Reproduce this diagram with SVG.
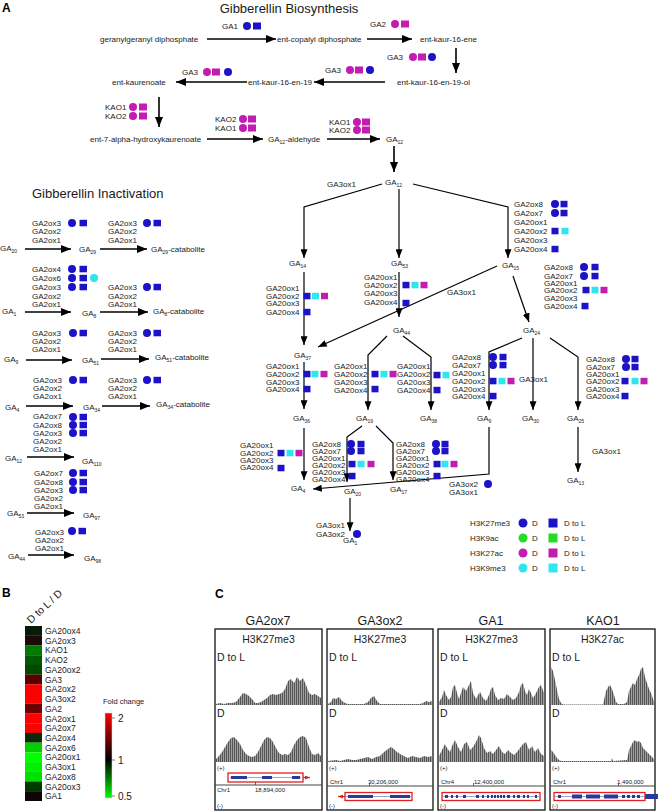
<svg xmlns="http://www.w3.org/2000/svg" width="658" height="811" viewBox="0 0 658 811">
<style>
text{font-family:"Liberation Sans",Arial,Helvetica,sans-serif;fill:#1a1a1a}
.e{font-size:8px}
.m{font-size:8px}
.sub{font-size:5px}
.ttl{font-size:13px}
.pl{font-size:12px;font-weight:bold;fill:#000}
.b{fill:#1c12c8}
.mg{fill:#c21cb0}
.cy{fill:#2ee6ee}
.gr{fill:#22dd22}
.ln{stroke:#000;stroke-width:1.2;fill:none}
.lb{stroke:#000;stroke-width:1.6;fill:none}
.box{fill:none;stroke:#111;stroke-width:1.3}
.trk{fill:url(#bars)}
.small{font-size:6px}
.ct{font-size:12.5px}
.ci{font-size:10.5px}
.hl{font-size:8.5px}
.gene{fill:none;stroke:#e02020;stroke-width:1.3}
.ex{fill:#2a3a9a}
</style>
<defs>
<marker id="ah" viewBox="0 0 10 8" refX="10" refY="4" markerWidth="9" markerHeight="7" orient="auto" markerUnits="userSpaceOnUse"><path d="M0,0 L10,4 L0,8 z" fill="#000"/></marker>
<marker id="ahb" viewBox="0 0 10 8" refX="10" refY="4" markerWidth="11" markerHeight="8" orient="auto" markerUnits="userSpaceOnUse"><path d="M0,0 L10,4 L0,8 z" fill="#000"/></marker>
<marker id="ahr" viewBox="0 0 10 8" refX="10" refY="4" markerWidth="5" markerHeight="4" orient="auto" markerUnits="userSpaceOnUse"><path d="M0,0 L10,4 L0,8 z" fill="#e02020"/></marker>
<pattern id="bars" width="2" height="10" patternUnits="userSpaceOnUse"><rect width="2" height="10" fill="#a0a0a0"/><rect width="1" height="10" fill="#555"/></pattern>
<linearGradient id="fc" x1="0" y1="0" x2="0" y2="1"><stop offset="0" stop-color="#ff0000"/><stop offset="0.55" stop-color="#000"/><stop offset="1" stop-color="#00ff00"/></linearGradient>
</defs>
<rect width="658" height="811" fill="#fff"/>

<text class="pl" x="2" y="12">A</text>
<text class="ttl" x="289" y="13" text-anchor="middle">Gibberellin Biosynthesis</text>
<text class="ttl" x="32" y="198">Gibberellin Inactivation</text>

<g id="connectors">
<path class="lb" d="M207,39 H276" marker-end="url(#ahb)"/>
<path class="lb" d="M367,39 H412" marker-end="url(#ahb)"/>
<path class="lb" d="M456,48 V73" marker-end="url(#ahb)"/>
<path class="lb" d="M385,82 H314" marker-end="url(#ahb)"/>
<path class="lb" d="M247,82 H176" marker-end="url(#ahb)"/>
<path class="lb" d="M159,97 V127" marker-end="url(#ahb)"/>
<path class="lb" d="M207,139 H263" marker-end="url(#ahb)"/>
<path class="lb" d="M327,139 H380" marker-end="url(#ahb)"/>
<path class="lb" d="M394,146 V172" marker-end="url(#ahb)"/>
<path class="ln" d="M382,184 L304,207 L304,258" marker-end="url(#ah)"/>
<path class="ln" d="M399,189 V258" marker-end="url(#ah)"/>
<path class="ln" d="M413,184 L508,207 L508,258" marker-end="url(#ah)"/>
<path class="ln" d="M304,272 V345" marker-end="url(#ah)"/>
<path class="ln" d="M399,272 V317" marker-end="url(#ah)"/>
<path class="ln" d="M497,266 L318,347" marker-end="url(#ah)"/>
<path class="ln" d="M513,276 L529,322" marker-end="url(#ah)"/>
<path class="ln" d="M387,336 L368,355 V410" marker-end="url(#ah)"/>
<path class="ln" d="M403,336 L431,357 V410" marker-end="url(#ah)"/>
<path class="ln" d="M304,362 V409" marker-end="url(#ah)"/>
<path class="ln" d="M522,338 L489,352 V410" marker-end="url(#ah)"/>
<path class="ln" d="M533,338 V410" marker-end="url(#ah)"/>
<path class="ln" d="M550,338 L578,357 V410" marker-end="url(#ah)"/>
<path class="ln" d="M578,427 V472" marker-end="url(#ah)"/>
<path class="ln" d="M304,428 V480" marker-end="url(#ah)"/>
<path class="ln" d="M362,426 L347,437 V482" marker-end="url(#ah)"/>
<path class="ln" d="M376,426 L393,443 V480" marker-end="url(#ah)"/>
<path class="ln" d="M489,427 V474 L313,489" marker-end="url(#ah)"/>
<path class="ln" d="M350,498 V531" marker-end="url(#ah)"/>
<path class="lb" d="M25,249 H71" marker-end="url(#ahb)"/>
<path class="lb" d="M100,249 H147" marker-end="url(#ahb)"/>
<path class="lb" d="M25,312 H71" marker-end="url(#ahb)"/>
<path class="lb" d="M100,312 H148" marker-end="url(#ahb)"/>
<path class="lb" d="M26,360 H72" marker-end="url(#ahb)"/>
<path class="lb" d="M101,359 H149" marker-end="url(#ahb)"/>
<path class="lb" d="M26,406 H73" marker-end="url(#ahb)"/>
<path class="lb" d="M102,406 H150" marker-end="url(#ahb)"/>
<path class="lb" d="M27,457 H74" marker-end="url(#ahb)"/>
<path class="lb" d="M27,513 H74" marker-end="url(#ahb)"/>
<path class="lb" d="M28,555 H74" marker-end="url(#ahb)"/>
</g>

<g id="n-ggdp"><text class="m" x="100" y="42">geranylgeranyl diphosphate</text></g>
<g id="n-cdp"><text class="m" x="277" y="42">ent-copalyl diphosphate</text></g>
<g id="n-kaurene"><text class="m" x="420" y="42">ent-kaur-16-ene</text></g>
<g id="n-kaurenol"><text class="m" x="397" y="85">ent-kaur-16-en-19-ol</text></g>
<g id="n-kaurenal"><text class="m" x="248" y="85">ent-kaur-16-en-19</text></g>
<g id="n-kaurenoate"><text class="m" x="112" y="85">ent-kaurenoate</text></g>
<g id="n-hydroxy"><text class="m" x="90" y="142">ent-7-alpha-hydroxykaurenoate</text></g>
<g id="n-ga12ald"><text class="m" x="268" y="142">GA<tspan class="sub" dy="2">12</tspan><tspan dy="-2">-aldehyde</tspan></text></g>
<g id="n-ga12a"><text class="m" x="386" y="142">GA<tspan class="sub" dy="2">12</tspan></text></g>

<g id="e-ga1"><text class="e" x="222" y="29">GA1</text><circle class="b" cx="247" cy="26" r="4"/><rect class="b" x="253" y="22.5" width="8" height="7"/></g>
<g id="e-ga2"><text class="e" x="370" y="27">GA2</text><circle class="mg" cx="395" cy="24" r="4"/><rect class="mg" x="401" y="20.5" width="8" height="7"/></g>
<g id="e-ga3a"><text class="e" x="387" y="60">GA3</text><circle class="mg" cx="413" cy="57" r="4"/><rect class="mg" x="418" y="53.5" width="8" height="7"/><circle class="b" cx="432" cy="57" r="4"/></g>
<g id="e-ga3b"><text class="e" x="325" y="73">GA3</text><circle class="mg" cx="350" cy="70" r="4"/><rect class="mg" x="355" y="66.5" width="8" height="7"/><circle class="b" cx="370" cy="70" r="4"/></g>
<g id="e-ga3c"><text class="e" x="182" y="75">GA3</text><circle class="mg" cx="207" cy="72" r="4"/><rect class="mg" x="212" y="68.5" width="8" height="7"/><circle class="b" cx="228" cy="72" r="4"/></g>
<g id="e-kao-a"><text class="e" x="105" y="110">KAO1</text><text class="e" x="105" y="119">KAO2</text><circle class="mg" cx="133" cy="107" r="4"/><rect class="mg" x="139" y="103.5" width="8" height="7"/><circle class="mg" cx="133" cy="116" r="4"/><rect class="mg" x="139" y="112.5" width="8" height="7"/></g>
<g id="e-kao-b"><text class="e" x="215" y="122">KAO2</text><text class="e" x="215" y="131">KAO1</text><circle class="mg" cx="243" cy="119" r="4"/><rect class="mg" x="248" y="115.5" width="8" height="7"/><circle class="mg" cx="243" cy="128" r="4"/><rect class="mg" x="248" y="124.5" width="8" height="7"/></g>
<g id="e-kao-c"><text class="e" x="329" y="125">KAO1</text><text class="e" x="329" y="133">KAO2</text><circle class="mg" cx="357" cy="122" r="4"/><rect class="mg" x="362" y="118.5" width="8" height="7"/><circle class="mg" cx="357" cy="130" r="4"/><rect class="mg" x="362" y="126.5" width="8" height="7"/></g>

<g id="n-ga12"><text class="m" x="385" y="185">GA<tspan class="sub" dy="2">12</tspan></text></g>
<g id="l-ga3ox1a"><text class="e" x="327" y="187">GA3ox1</text></g>
<g id="n-ga14"><text class="m" x="289" y="266">GA<tspan class="sub" dy="2">14</tspan></text></g>
<g id="n-ga53"><text class="m" x="391" y="266">GA<tspan class="sub" dy="2">53</tspan></text></g>
<g id="n-ga15"><text class="m" x="502" y="268">GA<tspan class="sub" dy="2">15</tspan></text></g>
<g id="n-ga37"><text class="m" x="294" y="358">GA<tspan class="sub" dy="2">37</tspan></text></g>
<g id="n-ga44"><text class="m" x="393" y="333">GA<tspan class="sub" dy="2">44</tspan></text></g>
<g id="n-ga24"><text class="m" x="523" y="333">GA<tspan class="sub" dy="2">24</tspan></text></g>
<g id="n-ga36"><text class="m" x="293" y="421">GA<tspan class="sub" dy="2">36</tspan></text></g>
<g id="n-ga19"><text class="m" x="356" y="421">GA<tspan class="sub" dy="2">19</tspan></text></g>
<g id="n-ga38"><text class="m" x="420" y="421">GA<tspan class="sub" dy="2">38</tspan></text></g>
<g id="n-ga9"><text class="m" x="477" y="421">GA<tspan class="sub" dy="2">9</tspan></text></g>
<g id="n-ga30"><text class="m" x="522" y="421">GA<tspan class="sub" dy="2">30</tspan></text></g>
<g id="n-ga25"><text class="m" x="567" y="421">GA<tspan class="sub" dy="2">25</tspan></text></g>
<g id="n-ga13"><text class="m" x="567" y="483">GA<tspan class="sub" dy="2">13</tspan></text></g>
<g id="n-ga4"><text class="m" x="291" y="491">GA<tspan class="sub" dy="2">4</tspan></text></g>
<g id="n-ga20"><text class="m" x="344" y="494">GA<tspan class="sub" dy="2">20</tspan></text></g>
<g id="n-ga17"><text class="m" x="390" y="492">GA<tspan class="sub" dy="2">17</tspan></text></g>
<g id="n-ga1"><text class="m" x="343" y="543">GA<tspan class="sub" dy="2">1</tspan></text></g>
<g id="l-ga3ox1b"><text class="e" x="447" y="295">GA3ox1</text></g>
<g id="l-ga3ox1c"><text class="e" x="519" y="382">GA3ox1</text></g>
<g id="l-ga3ox1d"><text class="e" x="592" y="454">GA3ox1</text></g>
<g id="l-ga3ox-e"><text class="e" x="449" y="487">GA3ox2</text><text class="e" x="449" y="495">GA3ox1</text><circle class="b" cx="488" cy="484" r="4"/></g>
<g id="l-ga3ox-f"><text class="e" x="316" y="528">GA3ox1</text><text class="e" x="316" y="537">GA3ox2</text><circle class="b" cx="357" cy="534" r="4"/></g>

<g id="e-ga14">
<text class="e" x="266" y="291">GA20ox1</text><text class="e" x="266" y="299">GA20ox2</text><text class="e" x="266" y="306">GA20ox3</text><text class="e" x="266" y="315">GA20ox4</text>
<rect class="b" x="303.5" y="292.8" width="7" height="6.5"/><rect class="cy" x="312" y="292.8" width="7" height="6.5"/><rect class="mg" x="321" y="292.8" width="7" height="6.5"/><rect class="b" x="303.5" y="308.8" width="7" height="6.5"/>
</g>
<g id="e-ga53">
<text class="e" x="364" y="280">GA20ox1</text><text class="e" x="364" y="288">GA20ox2</text><text class="e" x="364" y="296">GA20ox3</text><text class="e" x="364" y="305">GA20ox4</text>
<rect class="b" x="402.5" y="281.8" width="7" height="6.5"/><rect class="cy" x="411.5" y="281.8" width="7" height="6.5"/><rect class="mg" x="420.5" y="281.8" width="7" height="6.5"/><rect class="b" x="402.5" y="299.8" width="7" height="6.5"/>
</g>
<g id="e-ga15a">
<text class="e" x="514" y="207">GA2ox8</text><text class="e" x="514" y="216">GA2ox7</text><text class="e" x="514" y="225">GA20ox1</text><text class="e" x="514" y="234">GA20ox2</text><text class="e" x="514" y="243">GA20ox3</text><text class="e" x="514" y="252">GA20ox4</text>
<circle class="b" cx="555" cy="204" r="4"/><rect class="b" x="560.5" y="200.8" width="7" height="6.5"/><circle class="b" cx="555" cy="213" r="4"/><rect class="b" x="560.5" y="209.8" width="7" height="6.5"/>
<rect class="b" x="551.5" y="227.8" width="7" height="6.5"/><rect class="cy" x="561.5" y="227.8" width="7" height="6.5"/><rect class="b" x="551.5" y="245.8" width="7" height="6.5"/>
</g>
<g id="e-ga15b">
<text class="e" x="544" y="270">GA2ox8</text><text class="e" x="544" y="279">GA2ox7</text><text class="e" x="544" y="286">GA20ox1</text><text class="e" x="544" y="293">GA20ox2</text><text class="e" x="544" y="301">GA20ox3</text><text class="e" x="544" y="309">GA20ox4</text>
<circle class="b" cx="584" cy="267" r="4"/><rect class="b" x="591.5" y="263.8" width="7" height="6.5"/><circle class="b" cx="584" cy="276" r="4"/><rect class="b" x="591.5" y="272.8" width="7" height="6.5"/>
<rect class="b" x="582.5" y="286.8" width="7" height="6.5"/><rect class="cy" x="591.5" y="286.8" width="7" height="6.5"/><rect class="mg" x="600.5" y="286.8" width="7" height="6.5"/><rect class="b" x="581.5" y="302.8" width="7" height="6.5"/>
</g>
<g id="e-ga37">
<text class="e" x="266" y="369">GA20ox1</text><text class="e" x="266" y="377">GA20ox2</text><text class="e" x="266" y="385">GA20ox3</text><text class="e" x="266" y="392">GA20ox4</text>
<rect class="b" x="303.5" y="370.8" width="7" height="6.5"/><rect class="cy" x="311.5" y="370.8" width="7" height="6.5"/><rect class="mg" x="320.5" y="370.8" width="7" height="6.5"/><rect class="b" x="303.5" y="385.8" width="7" height="6.5"/>
</g>
<g id="e-ga44a">
<text class="e" x="334" y="369">GA20ox1</text><text class="e" x="334" y="377">GA20ox2</text><text class="e" x="334" y="385">GA20ox3</text><text class="e" x="334" y="393">GA20ox4</text>
<rect class="b" x="371.5" y="370.8" width="7" height="6.5"/><rect class="cy" x="380.5" y="370.8" width="7" height="6.5"/><rect class="mg" x="389.5" y="370.8" width="7" height="6.5"/><rect class="b" x="371.5" y="385.8" width="7" height="6.5"/>
</g>
<g id="e-ga44b">
<text class="e" x="397" y="369">GA20ox1</text><text class="e" x="397" y="377">GA20ox2</text><text class="e" x="397" y="385">GA20ox3</text><text class="e" x="397" y="393">GA20ox4</text>
<rect class="b" x="433.5" y="371.8" width="7" height="6.5"/><rect class="cy" x="442.5" y="371.8" width="7" height="6.5"/><rect class="b" x="433.5" y="386.8" width="7" height="6.5"/>
</g>
<g id="e-ga24a">
<text class="e" x="452" y="360">GA2ox8</text><text class="e" x="452" y="368">GA2ox7</text><text class="e" x="452" y="376">GA20ox1</text><text class="e" x="452" y="384">GA20ox2</text><text class="e" x="452" y="392">GA20ox3</text><text class="e" x="452" y="399">GA20ox4</text>
<circle class="b" cx="493" cy="357" r="4"/><rect class="b" x="499.5" y="353.8" width="7" height="6.5"/><circle class="b" cx="493" cy="365" r="4"/><rect class="b" x="499.5" y="361.8" width="7" height="6.5"/>
<rect class="b" x="489.5" y="377.8" width="7" height="6.5"/><rect class="cy" x="498.5" y="377.8" width="7" height="6.5"/><rect class="mg" x="507.5" y="377.8" width="7" height="6.5"/><rect class="b" x="489.5" y="392.8" width="7" height="6.5"/>
</g>
<g id="e-ga24b">
<text class="e" x="586" y="362">GA2ox8</text><text class="e" x="586" y="370">GA2ox7</text><text class="e" x="586" y="377">GA20ox1</text><text class="e" x="586" y="384">GA20ox2</text><text class="e" x="586" y="392">GA20ox3</text><text class="e" x="586" y="399">GA20ox4</text>
<circle class="b" cx="626" cy="359" r="4"/><rect class="b" x="631.5" y="355.8" width="7" height="6.5"/><circle class="b" cx="626" cy="367" r="4"/><rect class="b" x="631.5" y="363.8" width="7" height="6.5"/>
<rect class="b" x="621.5" y="377.8" width="7" height="6.5"/><rect class="cy" x="631.5" y="377.8" width="7" height="6.5"/><rect class="mg" x="640.5" y="377.8" width="7" height="6.5"/><rect class="b" x="621.5" y="392.8" width="7" height="6.5"/>
</g>
<g id="e-ga36">
<text class="e" x="240" y="448">GA20ox1</text><text class="e" x="240" y="456">GA20ox2</text><text class="e" x="240" y="463">GA20ox3</text><text class="e" x="240" y="470">GA20ox4</text>
<rect class="b" x="277.5" y="449.8" width="7" height="6.5"/><rect class="cy" x="286.5" y="449.8" width="7" height="6.5"/><rect class="mg" x="295.5" y="449.8" width="7" height="6.5"/><rect class="b" x="277.5" y="464.8" width="7" height="6.5"/>
</g>
<g id="e-ga19a">
<text class="e" x="312" y="447">GA2ox8</text><text class="e" x="312" y="454">GA2ox7</text><text class="e" x="312" y="461">GA20ox1</text><text class="e" x="312" y="468">GA20ox2</text><text class="e" x="312" y="475">GA20ox3</text><text class="e" x="312" y="482">GA20ox4</text>
<circle class="b" cx="351" cy="444" r="4"/><rect class="b" x="357.5" y="440.8" width="7" height="6.5"/><circle class="b" cx="351" cy="451" r="4"/><rect class="b" x="357.5" y="447.8" width="7" height="6.5"/>
<rect class="b" x="348.5" y="460.8" width="7" height="6.5"/><rect class="cy" x="357.5" y="460.8" width="7" height="6.5"/><rect class="mg" x="367.5" y="460.8" width="7" height="6.5"/><rect class="b" x="348.5" y="472.8" width="7" height="6.5"/>
</g>
<g id="e-ga19b">
<text class="e" x="396" y="447">GA2ox8</text><text class="e" x="396" y="454">GA2ox7</text><text class="e" x="396" y="461">GA20ox1</text><text class="e" x="396" y="468">GA20ox2</text><text class="e" x="396" y="475">GA20ox3</text><text class="e" x="396" y="482">GA20ox4</text>
<circle class="b" cx="436" cy="444" r="4"/><rect class="b" x="441.5" y="440.8" width="7" height="6.5"/><circle class="b" cx="436" cy="451" r="4"/><rect class="b" x="441.5" y="447.8" width="7" height="6.5"/>
<rect class="b" x="433.5" y="460.8" width="7" height="6.5"/><rect class="cy" x="441.5" y="460.8" width="7" height="6.5"/><rect class="mg" x="450.5" y="460.8" width="7" height="6.5"/><rect class="b" x="433.5" y="472.8" width="7" height="6.5"/>
</g>

<g id="legend">
<text class="e" x="470" y="526">H3K27me3</text><circle class="b" cx="523" cy="523" r="4.5"/><text class="e" x="532" y="526">D</text><rect class="b" x="548.5" y="518.5" width="9" height="9"/><text class="e" x="564" y="526">D to L</text>
<text class="e" x="470" y="541">H3K9ac</text><circle class="gr" cx="523" cy="538" r="4.5"/><text class="e" x="532" y="541">D</text><rect class="gr" x="548.5" y="533.5" width="9" height="9"/><text class="e" x="564" y="541">D to L</text>
<text class="e" x="470" y="556">H3K27ac</text><circle class="mg" cx="523" cy="553" r="4.5"/><text class="e" x="532" y="556">D</text><rect class="mg" x="548.5" y="548.5" width="9" height="9"/><text class="e" x="564" y="556">D to L</text>
<text class="e" x="470" y="571">H3K9me3</text><circle class="cy" cx="523" cy="568" r="4.5"/><text class="e" x="532" y="571">D</text><rect class="cy" x="548.5" y="563.5" width="9" height="9"/><text class="e" x="564" y="571">D to L</text>
</g>

<g id="inact-1">
<text class="e" x="32" y="226">GA2ox3</text><text class="e" x="32" y="234">GA2ox2</text><text class="e" x="32" y="243">GA2ox1</text>
<circle class="b" cx="72" cy="223" r="4"/><rect class="b" x="79.5" y="219.8" width="7.5" height="6.5"/>
<text class="e" x="108" y="226">GA2ox3</text><text class="e" x="108" y="234">GA2ox2</text><text class="e" x="108" y="243">GA2ox1</text>
<circle class="b" cx="147" cy="223" r="4"/><rect class="b" x="153.5" y="219.8" width="7.5" height="6.5"/>
<text class="m" x="0" y="251">GA<tspan class="sub" dy="2">20</tspan></text>
<text class="m" x="79" y="252">GA<tspan class="sub" dy="2">29</tspan></text>
<text class="m" x="151" y="252">GA<tspan class="sub" dy="2">29</tspan><tspan dy="-2">-catabolite</tspan></text>
</g>
<g id="inact-2">
<text class="e" x="32" y="272">GA2ox4</text><text class="e" x="32" y="281">GA2ox6</text><text class="e" x="32" y="290">GA2ox3</text><text class="e" x="32" y="299">GA2ox2</text><text class="e" x="32" y="307">GA2ox1</text>
<circle class="b" cx="72" cy="269" r="4"/><rect class="b" x="79.5" y="265.8" width="7.5" height="6.5"/>
<circle class="b" cx="72" cy="278" r="4"/><rect class="b" x="79.5" y="274.8" width="7.5" height="6.5"/><circle class="cy" cx="94" cy="278" r="4"/>
<circle class="b" cx="72" cy="287" r="4"/><rect class="b" x="79.5" y="283.8" width="7.5" height="6.5"/>
<text class="e" x="108" y="290">GA2ox3</text><text class="e" x="108" y="299">GA2ox2</text><text class="e" x="108" y="307">GA2ox1</text>
<circle class="b" cx="147" cy="287" r="4"/><rect class="b" x="153.5" y="283.8" width="7.5" height="6.5"/>
<text class="m" x="2" y="314">GA<tspan class="sub" dy="2">1</tspan></text>
<text class="m" x="82" y="316">GA<tspan class="sub" dy="2">8</tspan></text>
<text class="m" x="153" y="314">GA<tspan class="sub" dy="2">8</tspan><tspan dy="-2">-catabolite</tspan></text>
</g>
<g id="inact-3">
<text class="e" x="32" y="336">GA2ox3</text><text class="e" x="32" y="344">GA2ox2</text><text class="e" x="32" y="352">GA2ox1</text>
<circle class="b" cx="73" cy="333" r="4"/><rect class="b" x="79.5" y="329.8" width="7.5" height="6.5"/>
<text class="e" x="108" y="336">GA2ox3</text><text class="e" x="108" y="344">GA2ox2</text><text class="e" x="108" y="352">GA2ox1</text>
<circle class="b" cx="147" cy="333" r="4"/><rect class="b" x="153.5" y="329.8" width="7.5" height="6.5"/>
<text class="m" x="4" y="362">GA<tspan class="sub" dy="2">9</tspan></text>
<text class="m" x="82" y="363">GA<tspan class="sub" dy="2">51</tspan></text>
<text class="m" x="155" y="360">GA<tspan class="sub" dy="2">51</tspan><tspan dy="-2">-catabolite</tspan></text>
</g>
<g id="inact-4">
<text class="e" x="33" y="383">GA2ox3</text><text class="e" x="33" y="391">GA2ox2</text><text class="e" x="33" y="399">GA2ox1</text>
<circle class="b" cx="73" cy="380" r="4"/><rect class="b" x="79.5" y="376.8" width="7.5" height="6.5"/>
<text class="e" x="108" y="383">GA2ox3</text><text class="e" x="108" y="391">GA2ox2</text><text class="e" x="108" y="399">GA2ox1</text>
<circle class="b" cx="147" cy="380" r="4"/><rect class="b" x="153.5" y="376.8" width="7.5" height="6.5"/>
<text class="m" x="5" y="410">GA<tspan class="sub" dy="2">4</tspan></text>
<text class="m" x="83" y="410">GA<tspan class="sub" dy="2">34</tspan></text>
<text class="m" x="156" y="407">GA<tspan class="sub" dy="2">34</tspan><tspan dy="-2">-catabolite</tspan></text>
</g>
<g id="inact-5">
<text class="e" x="33" y="419">GA2ox7</text><text class="e" x="33" y="428">GA2ox8</text><text class="e" x="33" y="436">GA2ox3</text><text class="e" x="33" y="444">GA2ox2</text><text class="e" x="33" y="452">GA2ox1</text>
<circle class="b" cx="73" cy="417" r="4"/><rect class="b" x="79.5" y="413.8" width="7.5" height="6.5"/>
<circle class="b" cx="73" cy="425" r="4"/><rect class="b" x="79.5" y="421.8" width="7.5" height="6.5"/>
<circle class="b" cx="73" cy="433" r="4"/><rect class="b" x="79.5" y="429.8" width="7.5" height="6.5"/>
<text class="m" x="5" y="461">GA<tspan class="sub" dy="2">12</tspan></text>
<text class="m" x="82" y="464">GA<tspan class="sub" dy="2">110</tspan></text>
</g>
<g id="inact-6">
<text class="e" x="34" y="476">GA2ox7</text><text class="e" x="34" y="485">GA2ox8</text><text class="e" x="34" y="493">GA2ox3</text><text class="e" x="34" y="501">GA2ox2</text><text class="e" x="34" y="509">GA2ox1</text>
<circle class="b" cx="73" cy="473" r="4"/><rect class="b" x="79.5" y="469.8" width="7.5" height="6.5"/>
<circle class="b" cx="73" cy="482" r="4"/><rect class="b" x="79.5" y="478.8" width="7.5" height="6.5"/>
<circle class="b" cx="73" cy="490" r="4"/><rect class="b" x="79.5" y="486.8" width="7.5" height="6.5"/>
<text class="m" x="7" y="516">GA<tspan class="sub" dy="2">53</tspan></text>
<text class="m" x="83" y="518">GA<tspan class="sub" dy="2">97</tspan></text>
</g>
<g id="inact-7">
<text class="e" x="35" y="535">GA2ox3</text><text class="e" x="35" y="543">GA2ox2</text><text class="e" x="35" y="551">GA2ox1</text>
<circle class="b" cx="72" cy="531" r="4"/><rect class="b" x="78.5" y="527.8" width="7.5" height="6.5"/>
<text class="m" x="8" y="559">GA<tspan class="sub" dy="2">44</tspan></text>
<text class="m" x="84" y="561">GA<tspan class="sub" dy="2">98</tspan></text>
</g>

<g id="panelB">
<text class="pl" x="2" y="597">B</text>
<text transform="translate(31,624) rotate(-43)" font-size="10.5">D to L / D</text>
<rect x="25" y="626" width="17" height="9.8" fill="#0a1a0a"/>
<rect x="25" y="635.7" width="17" height="9.8" fill="#1a0a08"/>
<rect x="25" y="645.4" width="17" height="9.8" fill="#007a00"/>
<rect x="25" y="655.2" width="17" height="9.8" fill="#005a00"/>
<rect x="25" y="664.9" width="17" height="9.8" fill="#004a00"/>
<rect x="25" y="674.6" width="17" height="9.8" fill="#5a0000"/>
<rect x="25" y="684.3" width="17" height="9.8" fill="#ff0000"/>
<rect x="25" y="694" width="17" height="9.8" fill="#ff0000"/>
<rect x="25" y="703.8" width="17" height="9.8" fill="#6a0000"/>
<rect x="25" y="713.5" width="17" height="9.8" fill="#ff0000"/>
<rect x="25" y="723.2" width="17" height="9.8" fill="#ff0000"/>
<rect x="25" y="732.9" width="17" height="9.8" fill="#0a2a0a"/>
<rect x="25" y="742.6" width="17" height="9.8" fill="#00cc00"/>
<rect x="25" y="752.4" width="17" height="9.8" fill="#00ff00"/>
<rect x="25" y="762.1" width="17" height="9.8" fill="#00f000"/>
<rect x="25" y="771.8" width="17" height="9.8" fill="#00e000"/>
<rect x="25" y="781.5" width="17" height="9.8" fill="#003a00"/>
<rect x="25" y="791.2" width="17" height="9.8" fill="#120404"/>
<text class="hl" x="45" y="634">GA20ox4</text>
<text class="hl" x="45" y="643.7">GA2ox3</text>
<text class="hl" x="45" y="653.4">KAO1</text>
<text class="hl" x="45" y="663.2">KAO2</text>
<text class="hl" x="45" y="672.9">GA20ox2</text>
<text class="hl" x="45" y="682.6">GA3</text>
<text class="hl" x="45" y="692.3">GA2ox2</text>
<text class="hl" x="45" y="702">GA3ox2</text>
<text class="hl" x="45" y="711.8">GA2</text>
<text class="hl" x="45" y="721.5">GA2ox1</text>
<text class="hl" x="45" y="731.2">GA2ox7</text>
<text class="hl" x="45" y="740.9">GA2ox4</text>
<text class="hl" x="45" y="750.6">GA2ox6</text>
<text class="hl" x="45" y="760.4">GA20ox1</text>
<text class="hl" x="45" y="770.1">GA3ox1</text>
<text class="hl" x="45" y="779.8">GA2ox8</text>
<text class="hl" x="45" y="789.5">GA20ox3</text>
<text class="hl" x="45" y="799.2">GA1</text>
<text x="103" y="704" font-size="7.5">Fold change</text>
<rect x="105" y="713" width="7" height="85" fill="url(#fc)" stroke="#ddd" stroke-width="0.5"/>
<path d="M112,718 H115 M112,760 H115 M112,796 H115" stroke="#666" stroke-width="0.8"/>
<text x="118" y="722" font-size="10">2</text>
<text x="118" y="764" font-size="10">1</text>
<text x="118" y="800" font-size="10">0.5</text>
</g>

<g id="panelC">
<text class="pl" x="215" y="598">C</text>
<text class="ct" x="268" y="625" text-anchor="middle">GA2ox7</text>
<text class="ct" x="380" y="625" text-anchor="middle">GA3ox2</text>
<text class="ct" x="491" y="625" text-anchor="middle">GA1</text>
<text class="ct" x="603" y="625" text-anchor="middle">KAO1</text>
</g>

<g id="track-ga2ox7">
<polygon class="trk" points="216,705 216,704 220,703 224,704 228,703 232,703 236,702 240,697 243,693 246,694 249,696 252,699 255,703 258,703 261,702 264,700 267,698 270,695 273,694 276,695 279,694 282,693 285,689 288,681 291,679 294,683 297,677 300,681 303,678 306,685 309,693 312,695 315,694 318,696 321,698 321,705"/>
<polygon class="trk" points="216,762 216,759 219,756 222,752 225,747 228,742 231,738 234,737 237,740 240,744 243,750 246,754 249,756 252,757 255,756 258,752 261,746 264,740 267,737 270,738 273,742 276,748 279,753 282,755 285,754 288,755 291,752 294,745 297,740 300,737 303,736 306,738 309,747 312,754 315,755 318,753 321,756 321,762"/>
<rect class="box" x="215" y="629" width="107" height="181"/>
<text class="ci" x="268.5" y="643" text-anchor="middle">H3K27me3</text>
<text class="ci" x="217" y="661">D to L</text>
<text class="ci" x="217" y="717">D</text>
<text class="small" x="217" y="770">(+)</text>
<line x1="230" y1="777.5" x2="301" y2="777.5" stroke="#8090c0" stroke-width="0.8"/>
<rect class="ex" x="231" y="776" width="16" height="3"/><rect class="ex" x="262" y="776" width="10" height="3"/><rect class="ex" x="292" y="776" width="8" height="3"/>
<rect class="gene" x="228" y="773" width="75" height="9"/>
<path d="M303,777.5 H310" stroke="#e02020" stroke-width="1.2" marker-end="url(#ahr)"/>
<line x1="215" y1="785" x2="322" y2="785" stroke="#444" stroke-width="1"/>
<line x1="255.5" y1="782" x2="255.5" y2="785" stroke="#444" stroke-width="0.8"/>
<text class="small" x="217" y="792">Chr1</text>
<text class="small" x="255" y="792">18,894,000</text>
<text class="small" x="217" y="808">(-)</text>
</g>

<g id="track-ga3ox2">
<polygon class="trk" points="328,705 328,704 331,702 333,698 336,699 339,697 342,701 345,703 348,704 364,704 368,702 371,698 374,696 377,701 380,704 420,704 423,703 426,701 429,702 432,701 432,705"/>
<polygon class="trk" points="328,762 328,761 336,760 340,761 344,760 348,759 352,760 356,760 360,759 364,758 368,757 372,759 376,757 380,756 384,752 388,749 391,747 394,749 397,752 400,754 404,756 408,758 412,756 416,757 420,758 424,756 428,757 432,756 432,762"/>
<rect class="box" x="327" y="629" width="106" height="181"/>
<text class="ci" x="380" y="643" text-anchor="middle">H3K27me3</text>
<text class="ci" x="329" y="661">D to L</text>
<text class="ci" x="329" y="717">D</text>
<text class="small" x="329" y="770">(+)</text>
<text class="small" x="330" y="784">Chr1</text>
<text class="small" x="368" y="784">30,206,000</text>
<line x1="327" y1="786" x2="433" y2="786" stroke="#444" stroke-width="1"/>
<line x1="369.5" y1="783" x2="369.5" y2="786" stroke="#444" stroke-width="0.8"/>
<line x1="346" y1="796.5" x2="411" y2="796.5" stroke="#8090c0" stroke-width="0.8"/>
<rect class="ex" x="348" y="795" width="25" height="3"/><rect class="ex" x="390" y="795" width="20" height="3"/>
<rect class="gene" x="345" y="792.5" width="67" height="8"/>
<path d="M345,796.5 H338" stroke="#e02020" stroke-width="1.2" marker-end="url(#ahr)"/>
<text class="small" x="329" y="808">(-)</text>
</g>

<g id="track-ga1">
<polygon class="trk" points="439,705 439,702 442,697 444,690 446,695 449,700 451,697 453,687 455,685 457,693 459,699 461,693 463,687 466,691 469,685 471,681 473,693 476,699 478,695 480,692 483,698 486,701 489,695 491,689 493,687 495,695 498,700 501,698 504,699 507,694 510,697 513,700 516,698 519,692 521,685 523,683 525,691 527,695 529,689 531,693 533,698 535,695 537,691 539,687 541,685 544,693 544,705"/>
<polygon class="trk" points="439,762 439,756 442,750 445,744 447,748 450,752 452,746 455,740 458,747 461,752 464,744 467,742 470,750 473,747 476,742 479,735 481,738 484,748 487,753 490,751 493,754 496,750 499,746 502,752 505,754 508,750 511,753 514,755 517,752 520,748 523,744 526,742 529,750 532,746 535,752 538,748 541,754 544,756 544,762"/>
<rect class="box" x="438" y="629" width="107" height="181"/>
<text class="ci" x="491.5" y="643" text-anchor="middle">H3K27me3</text>
<text class="ci" x="440" y="661">D to L</text>
<text class="ci" x="440" y="717">D</text>
<text class="small" x="440" y="770">(+)</text>
<text class="small" x="441" y="784">Chr4</text>
<text class="small" x="474" y="784">12,400,000</text>
<line x1="438" y1="786" x2="545" y2="786" stroke="#444" stroke-width="1"/>
<line x1="473.5" y1="783" x2="473.5" y2="786" stroke="#444" stroke-width="0.8"/>
<line x1="443" y1="796.5" x2="539" y2="796.5" stroke="#8090c0" stroke-width="0.8"/>
<g class="ex"><rect x="445" y="795" width="3" height="3"/><rect x="451" y="795" width="2" height="3"/><rect x="456" y="795" width="2" height="3"/><rect x="463" y="795" width="3" height="3"/><rect x="476" y="795" width="3" height="3"/><rect x="482" y="795" width="2" height="3"/><rect x="487" y="795" width="2" height="3"/><rect x="491" y="795" width="2" height="3"/><rect x="494" y="795" width="2" height="3"/><rect x="497" y="795" width="2" height="3"/><rect x="500" y="795" width="2" height="3"/><rect x="503" y="795" width="2" height="3"/><rect x="507" y="795" width="3" height="3"/><rect x="513" y="795" width="2" height="3"/><rect x="517" y="795" width="3" height="3"/><rect x="523" y="795" width="2" height="3"/><rect x="527" y="795" width="2" height="3"/><rect x="535" y="795" width="2" height="3"/></g>
<rect class="gene" x="442" y="792.5" width="98" height="8"/>
<text class="small" x="440" y="808">(-)</text>
</g>

<g id="track-kao1">
<polygon class="trk" points="551,705 551,667 553,671 555,680 557,690 559,699 561,703 563,704.5 603,704.5 604,700 606,691 608,687 610,685 612,689 614,695 616,702 618,704 624,704 627,702 629,691 631,687 633,683 635,685 637,679 639,675 641,669 643,667 645,677 647,683 649,689 651,693 653,699 654,702 654,705"/>
<polygon class="trk" points="551,762 551,750 553,752 555,755 557,758 559,760 561,761 611,761 612,758 613,761 627,760 629,750 631,746 633,742 635,740 637,742 639,741 641,743 643,748 645,750 647,752 649,754 651,756 653,758 654,759 654,762"/>
<rect class="box" x="550" y="629" width="105" height="181"/>
<text class="ci" x="602.5" y="643" text-anchor="middle">H3K27ac</text>
<text class="ci" x="552" y="661">D to L</text>
<text class="ci" x="552" y="717">D</text>
<text class="small" x="552" y="770">(+)</text>
<text class="small" x="553" y="784">Chr1</text>
<text class="small" x="617" y="784">1,490,000</text>
<line x1="550" y1="786" x2="655" y2="786" stroke="#444" stroke-width="1"/>
<line x1="618.5" y1="783" x2="618.5" y2="786" stroke="#444" stroke-width="0.8"/>
<line x1="555" y1="796.5" x2="645" y2="796.5" stroke="#8090c0" stroke-width="0.8"/>
<g class="ex"><rect x="558" y="795" width="3" height="3"/><rect x="572" y="794.5" width="10" height="4"/><rect x="586" y="794.5" width="14" height="4"/><rect x="604" y="794.5" width="14" height="4"/><rect x="622" y="795" width="3" height="3"/><rect x="627" y="795" width="3" height="3"/><rect x="632" y="795" width="3" height="3"/><rect x="637" y="795" width="3" height="3"/><rect x="645" y="794" width="13" height="5"/></g>
<rect class="gene" x="554" y="792.5" width="91" height="8"/>
<text class="small" x="552" y="808">(-)</text>
</g>
</svg>
